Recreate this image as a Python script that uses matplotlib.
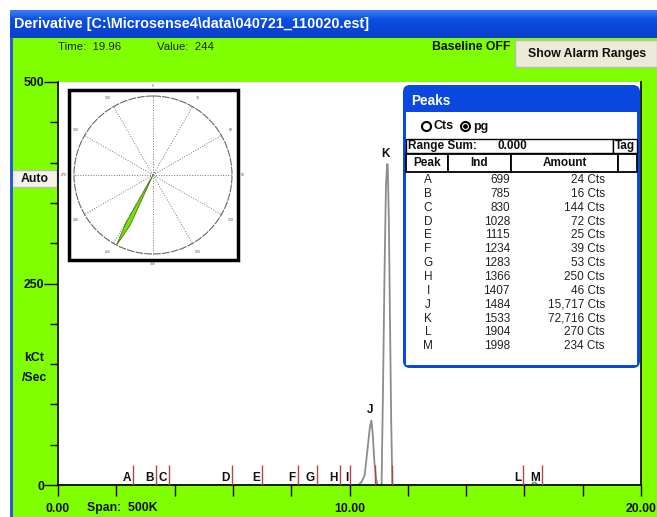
import numpy as np
import matplotlib.pyplot as plt
from matplotlib.patches import Rectangle, FancyBboxPatch
from matplotlib.colors import LinearSegmentedColormap

plt.rcParams['font.family'] = ['Liberation Sans', 'DejaVu Sans']

W, H = 657, 517

# derivative trace, time (min) vs kCt/Sec
trace_t = [0.0, 10.30, 10.42, 10.52, 10.62, 10.70, 10.75, 10.80, 10.85, 10.91, 10.96,
           11.10, 11.15, 11.20, 11.25, 11.29, 11.31, 11.35, 11.39, 11.43, 11.47,
           16.25, 16.30, 16.38, 16.45, 20.0]
trace_v = [0, 0, 4, 12, 45, 72, 80, 62, 30, 8, 0,
           0, 120, 260, 370, 398, 398, 330, 200, 80, 0,
           0, 3, 3, 0, 0]

peak_names = ['A', 'B', 'C', 'D', 'E', 'F', 'G', 'H', 'I', 'J', 'K', 'L', 'M']
peak_times = [2.57, 3.36, 3.80, 5.96, 6.99, 8.22, 8.87, 9.66, 10.03, 10.89, 11.47, 15.96, 16.61]
peak_ind = [699, 785, 830, 1028, 1115, 1234, 1283, 1366, 1407, 1484, 1533, 1904, 1998]
peak_amount = [24, 16, 144, 72, 25, 39, 53, 250, 46, 15717, 72716, 270, 234]

x_ticks = list(range(0, 21, 2))
x_ticklabels = {0: '0.00', 10: '10.00', 20: '20.00'}
y_ticks = [0, 250, 500]
y_minor = list(range(0, 501, 50))

rose_dir = 207  # degrees clockwise from north
rose_spokes = list(range(0, 360, 30))

GREEN = '#80ff00'
BLUE = '#0a48e0'
INK = '#101010'

fig = plt.figure(figsize=(W / 100, H / 100), dpi=100)

# background / window chrome
bg = fig.add_axes([0, 0, 1, 1], zorder=0)
bg.set_xlim(0, W)
bg.set_ylim(H, 0)
bg.axis('off')
bg.add_patch(Rectangle((10, 38), W - 10, H - 38, fc=GREEN, ec='none'))
bg.plot([10.5, 10.5], [38, H], color='#1d55e0', lw=2)
cmap = LinearSegmentedColormap.from_list('xp', ['#3d7cf2', '#0b50e3', '#0a45d6', '#0a3fc8'])
bg.imshow(np.linspace(0, 1, 40).reshape(-1, 1), extent=[10, W, 38, 10], aspect='auto',
          cmap=cmap, zorder=1)
bg.text(14, 24, 'Derivative [C:\\Microsense4\\data\\040721_110020.est]', color='white',
        fontsize=10.4, weight='bold', va='center', zorder=2)
bg.text(58, 47, 'Time:  19.96', fontsize=8.2, va='center', color='#202020')
bg.text(157, 47, 'Value:  244', fontsize=8.2, va='center', color='#202020')
bg.text(432, 47, 'Baseline OFF', fontsize=8.8, weight='bold', va='center', color=INK)
bg.add_patch(Rectangle((515, 40), 142, 27, fc='#ece9d8', ec='#bdbab0', lw=1))
bg.text(587, 54, 'Show Alarm Ranges', fontsize=8.8, weight='bold', ha='center', va='center',
        color=INK)
bg.add_patch(Rectangle((12, 170), 45, 17, fc='#f2f1ea', ec='#bdbab0', lw=1))
bg.text(34.5, 178.5, 'Auto', fontsize=8.8, weight='bold', ha='center', va='center', color=INK)
bg.text(34, 358, 'kCt', fontsize=8.8, weight='bold', ha='center', va='center', color=INK)
bg.text(35, 378, '/Sec', fontsize=8.8, weight='bold', ha='center', va='center', color=INK)
bg.text(87, 508, 'Span:  500K', fontsize=8.8, weight='bold', va='center', color=INK)

# main chart
ax = fig.add_axes([58 / W, (H - 485) / H, (641 - 58) / W, (485 - 82) / H], zorder=1)
ax.set_facecolor('white')
ax.set_xlim(0, 20)
ax.set_ylim(0, 500)
ax.plot(trace_t, trace_v, color='#8c8c8c', lw=1.3, zorder=2)
ax.vlines(peak_times, 0, 25, color='#b8404f', lw=1, zorder=3)
tt = np.array(trace_t)
tv = np.array(trace_v)
for name, t in zip(peak_names, peak_times):
    win = (tt > t - 0.6) & (tt <= t + 0.02)
    top = tv[win].max() if win.any() else 0
    if top > 30:
        tp = tt[win][tv[win].argmax()]
        ax.annotate(name, (tp - 0.05, top), xytext=(0, 3), textcoords='offset points',
                    ha='center', va='bottom', fontsize=8.5, weight='bold', color=INK)
    else:
        ax.annotate(name, (t, 0), xytext=(-1.5, 1), textcoords='offset points',
                    ha='right', va='bottom', fontsize=8.5, weight='bold', color=INK)
for s in ['left', 'bottom', 'right']:
    ax.spines[s].set_color('black')
    ax.spines[s].set_linewidth(1.2)
ax.spines['top'].set_visible(False)
ax.set_yticks(y_ticks)
ax.set_yticks(y_minor, minor=True)
ax.set_xticks(x_ticks)
ax.set_xticklabels([x_ticklabels.get(v, '') for v in x_ticks])
ax.tick_params(axis='y', which='major', length=10, width=1, pad=0, labelsize=8.8)
ax.tick_params(axis='y', which='minor', length=6, width=1)
ax.tick_params(axis='x', length=8, width=1, pad=5, labelsize=8.8)
for lab in ax.get_xticklabels() + ax.get_yticklabels():
    lab.set_fontweight('bold')
    lab.set_color(INK)

# overlay widgets
ui = fig.add_axes([0, 0, 1, 1], zorder=5)
ui.set_xlim(0, W)
ui.set_ylim(H, 0)
ui.axis('off')
ui.patch.set_alpha(0)

# rose inset box
ui.add_patch(Rectangle((69, 90), 169, 170, fc='white', ec='black', lw=2.5))

# Peaks dialog
ui.add_patch(FancyBboxPatch((403, 85), 237, 283, boxstyle='round,pad=0,rounding_size=7',
                            fc=BLUE, ec='none'))
ui.add_patch(Rectangle((406, 112), 231, 253, fc='white', ec='none'))
ui.text(411, 101, 'Peaks', color='white', fontsize=9.8, weight='bold', va='center')
ui.plot(426, 126, 'o', ms=6.5, mfc='white', mec='black', mew=1.5)
ui.text(434, 126, 'Cts', fontsize=9, weight='bold', va='center', color=INK)
ui.plot(465, 126, 'o', ms=6.5, mfc='white', mec='black', mew=1.5)
ui.plot(465, 126, 'o', ms=2.4, color='black')
ui.text(473, 127, 'pg', fontsize=9, weight='bold', va='center', color=INK)
ui.add_patch(Rectangle((406, 139), 207, 14, fc='white', ec='black', lw=1))
ui.add_patch(Rectangle((613, 139), 24, 14, fc='white', ec='black', lw=1))
ui.text(408, 146, 'Range Sum:', fontsize=8.5, weight='bold', va='center', color=INK)
ui.text(497, 146, '0.000', fontsize=8.5, weight='bold', va='center', color=INK)
ui.text(615, 146, 'Tag', fontsize=8.5, weight='bold', va='center', color=INK)
for x0, x1, lab in [(406, 448, 'Peak'), (448, 511, 'Ind'), (511, 618, 'Amount'), (618, 637, '')]:
    ui.add_patch(Rectangle((x0, 154), x1 - x0, 18, fc='white', ec='black', lw=1.3))
    ui.text((x0 + x1) / 2, 163, lab, fontsize=8.5, weight='bold', ha='center', va='center',
            color=INK)
for i, (name, ind, amt) in enumerate(zip(peak_names, peak_ind, peak_amount)):
    y = 180 + i * 13.85
    ui.text(428, y, name, fontsize=8.5, ha='center', va='center', color='#222222')
    ui.text(510, y, str(ind), fontsize=8.5, ha='right', va='center', color='#222222')
    ui.text(605, y, f'{amt:,} Cts', fontsize=8.5, ha='right', va='center', color='#222222')

# rose plot
pa = fig.add_axes([74 / W, (H - 254) / H, 158 / W, 158 / H], projection='polar', zorder=6)
pa.set_facecolor('none')
pa.set_theta_zero_location('N')
pa.set_theta_direction(-1)
pa.set_ylim(0, 1)
pa.set_yticks([])
pa.set_xticks(np.deg2rad(rose_spokes))
pa.set_xticklabels([str(a) for a in rose_spokes], fontsize=2.5, color='#555555')
pa.tick_params(axis='x', pad=-3)
pa.xaxis.grid(True, ls=':', color='#777777', lw=0.7)
pa.spines['polar'].set_linestyle((0, (6, 2)))
pa.spines['polar'].set_color('#666666')
pa.spines['polar'].set_linewidth(0.8)
th = np.deg2rad([rose_dir, rose_dir - 2.5, rose_dir + 0.5, rose_dir + 2.5, rose_dir])
rr = [0, 0.7, 1.0, 0.7, 0]
pa.fill(th, rr, color='#7ee000', ec='#3a7a10', lw=0.6)

fig.savefig('out.png', dpi=100)
